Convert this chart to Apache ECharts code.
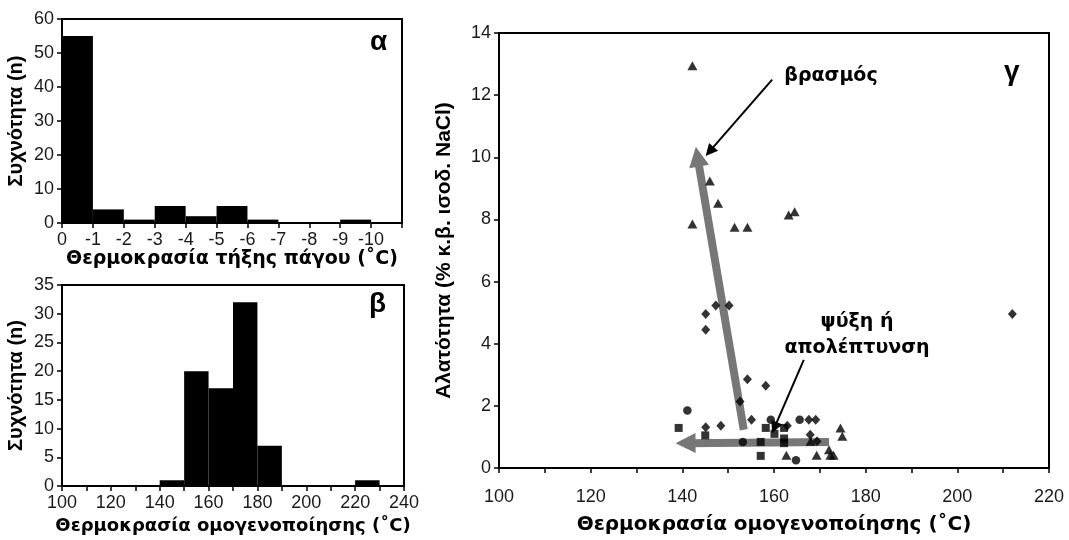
<!DOCTYPE html>
<html>
<head>
<meta charset="utf-8">
<script src="https://cdn.jsdelivr.net/npm/echarts@6/dist/echarts.min.js"></script>
<style>html,body{margin:0;padding:0;background:#fff}#c{width:1069px;height:540px}</style>
</head>
<body>
<div id="c"></div>
<script>
// ---- Data ----
// (α) freezing-point histogram: bin edges and counts
const alphaEdges = [0, -1, -2, -3, -4, -5, -6, -7, -8, -9, -10, -11];
const alphaCounts = [55, 4, 1, 5, 2, 5, 1, 0, 0, 1, 0];
// (β) homogenisation-temperature histogram
const betaEdges = [100, 110, 120, 130, 140, 150, 160, 170, 180, 190, 200, 210, 220, 230, 240];
const betaCounts = [0, 0, 0, 0, 1, 20, 17, 32, 7, 0, 0, 0, 1, 0];
// (γ) scatter: [Th (°C), salinity (wt% NaCl eq.)]
const triPoints = [[142.2, 12.95], [146.0, 9.24], [147.8, 8.52], [142.2, 7.85], [151.4, 7.75], [154.2, 7.75],
  [163.2, 8.14], [164.5, 8.25], [174.5, 1.29], [174.9, 1.02], [162.7, 0.41], [169.3, 0.41], [172.0, 0.59],
  [172.3, 0.41], [173.0, 0.41], [168.0, 0.86]];
const diamondPoints = [[145.1, 4.96], [147.3, 5.23], [150.2, 5.23], [145.1, 4.45], [154.2, 2.86], [158.2, 2.65],
  [152.6, 2.14], [155.1, 1.55], [148.4, 1.36], [145.1, 1.31], [162.9, 1.36], [167.6, 1.55], [169.1, 1.55],
  [167.9, 1.07], [169.4, 0.86], [212.0, 4.96]];
const circlePoints = [[141.1, 1.85], [159.3, 1.55], [165.6, 1.55], [153.2, 0.84], [164.8, 0.25]];
const squarePoints = [[139.2, 1.29], [145.0, 1.05], [158.2, 1.29], [160.1, 1.10], [162.2, 1.29], [162.2, 0.95],
  [157.1, 0.84], [162.2, 0.80], [157.1, 0.39]];
// Trend arrows (tail, head) in data coordinates
const boilTrend = [[153.4, 1.23], [143.3, 10.02]];
const coolTrend = [[172.0, 0.84], [140.7, 0.80]];
// Annotation pointers (tail, head)
const boilPointer = [[159.6, 12.5], [145.95, 10.19]];
const coolPointer = [[166.5, 3.48], [160.1, 1.30]];
// Tick labels
const alphaTicks = ['0', '-1', '-2', '-3', '-4', '-5', '-6', '-7', '-8', '-9', '-10'];

const FONT = 'Liberation Sans, Arial, sans-serif';
const WIDE = 'DejaVu Sans, Liberation Sans, sans-serif';
const chart = echarts.init(document.getElementById('c'));

function histItem(params, api) {
  const x0 = api.value(0), x1 = api.value(1), y = api.value(2);
  if (!y) return null;
  const p0 = api.coord([x0, y]);
  const p1 = api.coord([x1, 0]);
  return {
    type: 'rect',
    shape: { x: Math.min(p0[0], p1[0]), y: p0[1], width: Math.abs(p1[0] - p0[0]), height: p1[1] - p0[1] },
    style: { fill: '#000' }
  };
}

const axisLine = { show: true, lineStyle: { color: '#000', width: 2 } };
const axisTick = { show: true, inside: false, length: 5, lineStyle: { color: '#000', width: 1.5 } };
const tickLabel = { color: '#1a1a1a', fontSize: 18, fontFamily: FONT, margin: 8, showMinLabel: true, showMaxLabel: true };
const ytitle = { color: '#000', fontSize: 20, fontWeight: 'bold', fontFamily: FONT };
const xtitleA = { color: '#000', fontSize: 19, fontWeight: 'bold', fontFamily: WIDE };
const xtitleB = { color: '#000', fontSize: 18, fontWeight: 'bold', fontFamily: WIDE };
const xtitleG = { color: '#000', fontSize: 20, fontWeight: 'bold', fontFamily: WIDE };
const ytitleG = { color: '#000', fontSize: 21, fontWeight: 'bold', fontFamily: FONT };

const gridBase = { show: true, borderColor: '#000', borderWidth: 2, backgroundColor: 'transparent', containLabel: false };

const option = {
  animation: false,
  backgroundColor: '#fff',
  grid: [
    Object.assign({ left: 62, top: 19, width: 340, height: 204 }, gridBase),
    Object.assign({ left: 62, top: 285, width: 342, height: 201 }, gridBase),
    Object.assign({ left: 499, top: 33, width: 550, height: 435 }, gridBase)
  ],
  xAxis: [
    { gridIndex: 0, type: 'value', min: -11, max: 0, interval: 1, inverse: true,
      axisLine, axisTick, splitLine: { show: false },
      axisLabel: Object.assign({}, tickLabel, { formatter: v => alphaTicks[-v] !== undefined ? alphaTicks[-v] : '' }),
      name: 'Θερμοκρασία τήξης πάγου (˚C)', nameLocation: 'middle', nameGap: 25, nameTextStyle: xtitleA },
    { gridIndex: 1, type: 'value', min: 100, max: 240, interval: 10,
      axisLine, axisTick, splitLine: { show: false },
      axisLabel: Object.assign({}, tickLabel, { formatter: v => (v % 20 === 0 ? String(v) : '') }),
      name: 'Θερμοκρασία ομογενοποίησης (˚C)', nameLocation: 'middle', nameGap: 31, nameTextStyle: xtitleB },
    { gridIndex: 2, type: 'value', min: 100, max: 220, interval: 10,
      axisLine, axisTick, splitLine: { show: false },
      axisLabel: Object.assign({}, tickLabel, { formatter: v => (v % 20 === 0 ? String(v) : ''), margin: 20 }),
      name: 'Θερμοκρασία ομογενοποίησης (˚C)', nameLocation: 'middle', nameGap: 47, nameTextStyle: xtitleG }
  ],
  yAxis: [
    { gridIndex: 0, type: 'value', min: 0, max: 60, interval: 10,
      axisLine, axisTick, splitLine: { show: false }, axisLabel: tickLabel,
      name: 'Συχνότητα (n)', nameLocation: 'middle', nameGap: 36, nameTextStyle: ytitle },
    { gridIndex: 1, type: 'value', min: 0, max: 35, interval: 5,
      axisLine, axisTick, splitLine: { show: false }, axisLabel: tickLabel,
      name: 'Συχνότητα (n)', nameLocation: 'middle', nameGap: 36, nameTextStyle: ytitle },
    { gridIndex: 2, type: 'value', min: 0, max: 14, interval: 2,
      axisLine, axisTick, splitLine: { show: false }, axisLabel: tickLabel,
      name: 'Αλατότητα (% κ.β. ισοδ. NaCl)', nameLocation: 'middle', nameGap: 44, nameTextStyle: ytitleG }
  ],
  series: [
    { type: 'custom', xAxisIndex: 0, yAxisIndex: 0, renderItem: histItem, encode: { x: [0, 1], y: 2 },
      data: alphaCounts.map((c, i) => [alphaEdges[i], alphaEdges[i + 1], c]) },
    { type: 'custom', xAxisIndex: 1, yAxisIndex: 1, renderItem: histItem, encode: { x: [0, 1], y: 2 },
      data: betaCounts.map((c, i) => [betaEdges[i], betaEdges[i + 1], c]) },
    { type: 'lines', coordinateSystem: 'cartesian2d', xAxisIndex: 2, yAxisIndex: 2, z: 1,
      symbol: ['none', 'triangle'], symbolSize: [19, 20],
      lineStyle: { color: '#777', width: 8, opacity: 1, cap: 'butt' },
      itemStyle: { color: '#777' },
      data: [{ coords: boilTrend }, { coords: coolTrend }] },
    { type: 'scatter', xAxisIndex: 2, yAxisIndex: 2, z: 3, symbol: 'triangle', symbolSize: [10, 9],
      itemStyle: { color: '#000' }, data: triPoints },
    { type: 'scatter', xAxisIndex: 2, yAxisIndex: 2, z: 3, symbol: 'diamond', symbolSize: [9, 10],
      itemStyle: { color: '#000' }, data: diamondPoints },
    { type: 'scatter', xAxisIndex: 2, yAxisIndex: 2, z: 3, symbol: 'circle', symbolSize: 8.5,
      itemStyle: { color: '#000' }, data: circlePoints },
    { type: 'scatter', xAxisIndex: 2, yAxisIndex: 2, z: 3, symbol: 'rect', symbolSize: 8,
      itemStyle: { color: '#000' }, data: squarePoints },
    { type: 'lines', coordinateSystem: 'cartesian2d', xAxisIndex: 2, yAxisIndex: 2, z: 4,
      symbol: ['none', 'triangle'], symbolSize: [9, 12],
      lineStyle: { color: '#000', width: 2, opacity: 1 },
      itemStyle: { color: '#000' },
      data: [{ coords: boilPointer }, { coords: coolPointer }] }
  ],
  graphic: [
    { type: 'text', left: 370, top: 28, style: { text: 'α', font: 'bold 28px ' + FONT, fill: '#000' } },
    { type: 'text', left: 369, top: 290, style: { text: 'β', font: 'bold 28px ' + FONT, fill: '#000' } },
    { type: 'text', left: 1004, top: 58, style: { text: 'γ', font: 'bold 28px ' + FONT, fill: '#000' } },
    { type: 'text', x: 831, y: 76, style: { text: 'βρασμός', font: 'bold 19px ' + WIDE, fill: '#000', align: 'center', verticalAlign: 'middle' } },
    { type: 'text', x: 857, y: 322, style: { text: 'ψύξη ή', font: 'bold 19px ' + WIDE, fill: '#000', align: 'center', verticalAlign: 'middle' } },
    { type: 'text', x: 857, y: 348, style: { text: 'απολέπτυνση', font: 'bold 19px ' + WIDE, fill: '#000', align: 'center', verticalAlign: 'middle' } }
  ]
};
chart.setOption(option);
</script>
</body>
</html>
